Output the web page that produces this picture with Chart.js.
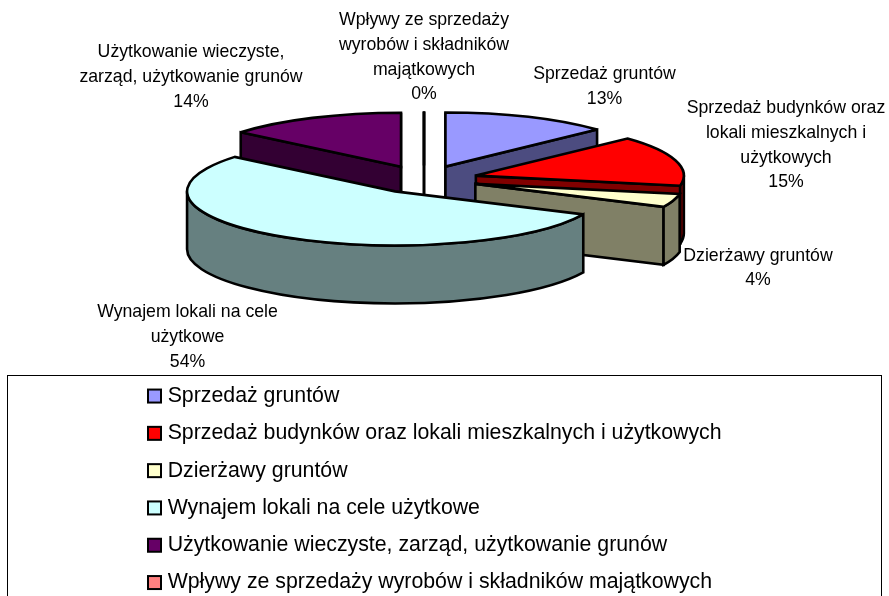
<!DOCTYPE html>
<html>
<head>
<meta charset="utf-8">
<style>
body { margin: 0; background: #fff; }
canvas { display: block; }
</style>
<script src="https://cdn.jsdelivr.net/npm/chart.js@4"></script>
</head>
<body>
<canvas id="myChart" width="889" height="596"></canvas>
<script>
let categories = [
    "Sprzedaż gruntów",
    "Sprzedaż budynków oraz lokali mieszkalnych i użytkowych",
    "Dzierżawy gruntów",
    "Wynajem lokali na cele użytkowe",
    "Użytkowanie wieczyste, zarząd, użytkowanie grunów",
    "Wpływy ze sprzedaży wyrobów i składników majątkowych"
];
let values = [13, 15, 4, 54, 14, 0];
let topColors = ["#9999FF", "#FF0000", "#FFFFCC", "#CCFFFF", "#660066", "#FF8080"];
let sideColors = ["#4C4C80", "#800000", "#808066", "#668080", "#330033", "#804040"];
// labels broken the way they are in the picture
let labelLines = [
    ["Sprzedaż gruntów"],
    ["Sprzedaż budynków oraz", "lokali mieszkalnych i", "użytkowych"],
    ["Dzierżawy gruntów"],
    ["Wynajem lokali na cele", "użytkowe"],
    ["Użytkowanie wieczyste,", "zarząd, użytkowanie grunów"],
    ["Wpływy ze sprzedaży", "wyrobów i składników", "majątkowych"]
];

// centre x and first line y of every data label
let labelSpots = [[604.5, 73], [786, 107], [758, 254.5], [187.5, 311], [191, 51], [424, 19]];
let drawOrder = [5, 4, 0, 1, 2, 3];

const squash = 0.26;
const depth = 58;
const explode = 54;

function drawSlice(ctx, el, i) {
    let a = el.startAngle;
    let b = el.endAngle;
    let r = el.outerRadius;
    let mid = (a + b) / 2;
    let x = el.x + Math.cos(mid) * explode;
    let y = el.y + Math.sin(mid) * explode * squash;
    let ry = r * squash;

    ctx.strokeStyle = "#000";
    ctx.lineWidth = 2.6;
    ctx.lineJoin = "miter";
    ctx.miterLimit = 3;

    // cut faces, only the ones turned to the viewer
    [[a, Math.cos(a) <= 1e-6], [b, Math.cos(b) >= -1e-6]].forEach(function (face) {
        if (!face[1]) return;
        let px = x + Math.cos(face[0]) * r;
        let py = y + Math.sin(face[0]) * ry;
        ctx.beginPath();
        ctx.moveTo(x, y);
        ctx.lineTo(px, py);
        ctx.lineTo(px, py + depth);
        ctx.lineTo(x, y + depth);
        ctx.closePath();
        ctx.fillStyle = sideColors[i];
        ctx.fill();
        ctx.stroke();
    });

    // outer wall, front half of the rim
    let w0 = Math.max(a, 0);
    let w1 = Math.min(b, Math.PI);
    if (w1 > w0) {
        ctx.beginPath();
        ctx.ellipse(x, y, r, ry, 0, w0, w1);
        ctx.ellipse(x, y + depth, r, ry, 0, w1, w0, true);
        ctx.closePath();
        ctx.fillStyle = sideColors[i];
        ctx.fill();
        ctx.stroke();
    }

    // top face
    ctx.beginPath();
    ctx.moveTo(x, y);
    ctx.ellipse(x, y, r, ry, 0, a, b);
    ctx.closePath();
    ctx.fillStyle = topColors[i];
    ctx.fill();
    ctx.stroke();
}

const pie3d = {
    id: "pie3d",
    afterLayout(chart) {
        // legend sits inside the framed box under the pie
        let legend = chart.legend;
        legend.left = 132;
        legend.right = 880;
        legend.top = 369.4;
        legend.bottom = 640;
        legend.width = legend.right - legend.left;
        legend.height = legend.bottom - legend.top;
    },
    beforeDraw(chart) {
        let ctx = chart.ctx;
        ctx.save();
        ctx.strokeStyle = "#000";
        ctx.lineWidth = 1;
        ctx.strokeRect(7.5, 375.5, 874, 240);
        ctx.restore();
    },
    beforeDatasetsDraw(chart) {
        let ctx = chart.ctx;
        let arcs = chart.getDatasetMeta(0).data;
        ctx.save();
        drawOrder.forEach(function (i) {
            drawSlice(ctx, arcs[i], i);
        });
        ctx.fillStyle = "#000";
        ctx.font = "17.7px 'Liberation Sans'";
        ctx.textAlign = "center";
        ctx.textBaseline = "middle";
        labelLines.forEach(function (lines, i) {
            let all = lines.concat([values[i] + "%"]);
            all.forEach(function (line, n) {
                ctx.fillText(line, labelSpots[i][0], labelSpots[i][1] + 1.5 + n * 24.6);
            });
        });
        ctx.restore();
        return false;
    },
    afterDraw(chart) {
        // legend gap follows the font size, so the swatches get their real size here
        let ctx = chart.ctx;
        let legend = chart.legend;
        ctx.save();
        ctx.strokeStyle = "#000";
        ctx.lineWidth = 2;
        legend.legendItems.forEach(function (item, i) {
            let box = legend.legendHitBoxes[i];
            ctx.fillStyle = item.fillStyle;
            ctx.fillRect(148, box.top + box.height / 2 - 6.5, 13, 13);
            ctx.strokeRect(148, box.top + box.height / 2 - 6.5, 13, 13);
        });
        ctx.restore();
    }
};

new Chart(document.getElementById("myChart").getContext("2d"), {
    type: "pie",
    data: {
        labels: categories,
        datasets: [{
            data: values,
            backgroundColor: topColors,
            borderColor: "#000",
            borderWidth: 2
        }]
    },
    plugins: [pie3d],
    options: {
        responsive: false,
        animation: false,
        radius: 208,
        layout: { padding: { right: 41, bottom: 237 } },
        plugins: {
            tooltip: { enabled: false },
            legend: {
                position: "chartArea",
                align: "start",
                labels: {
                    boxWidth: 9,
                    boxHeight: 9,
                    padding: 16,
                    color: "#000",
                    font: { family: "'Liberation Sans'", size: 21.3 }
                }
            }
        }
    }
});
</script>
</body>
</html>
